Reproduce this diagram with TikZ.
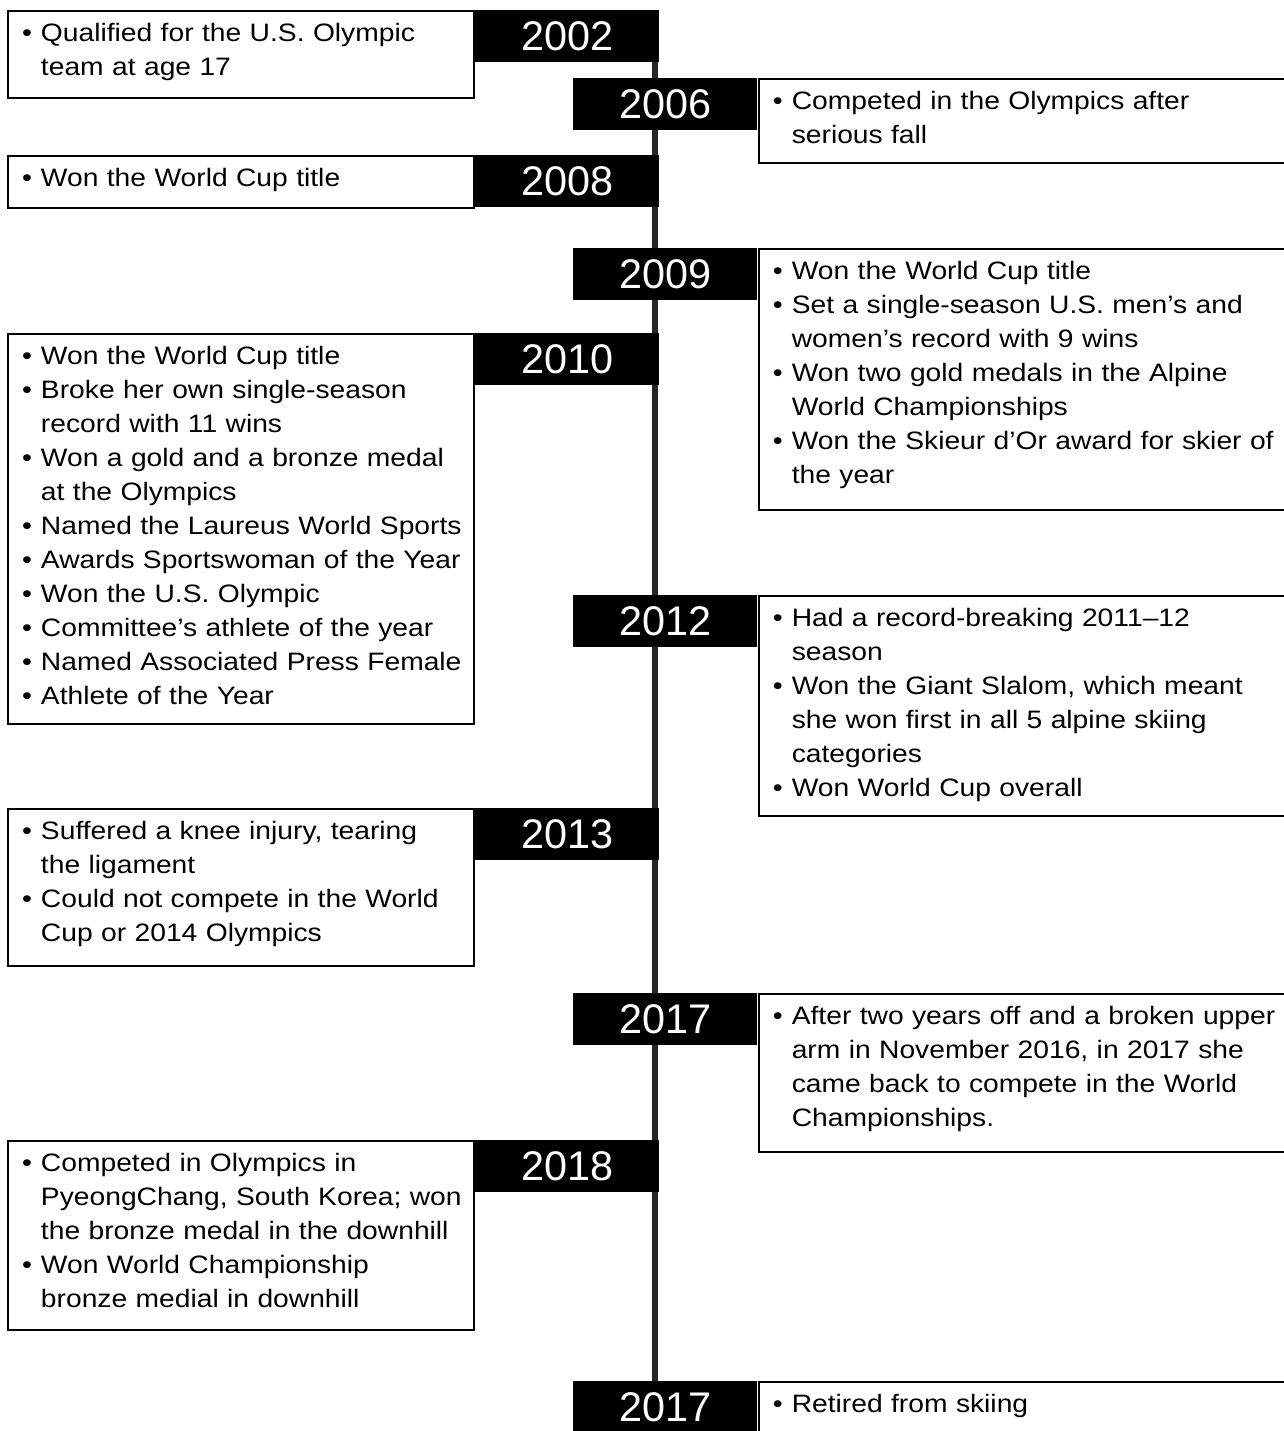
\documentclass[tikz,border=0pt]{standalone}
\usepackage{fontspec}
\newfontfamily\bodyfont{Liberation Sans}[FakeStretch=1.12]
\newfontfamily\yearfont{Liberation Sans}
\newcommand{\fitm}{\hangindent=9.5pt\hangafter=1\makebox[9.5pt][l]{\textbullet}}
\newcommand{\itm}{\par\hangindent=9.5pt\hangafter=1\noindent\makebox[9.5pt][l]{\textbullet}}

\tikzset{
  spine/.style={line width=3pt, black!85},
  yr/.style={fill=black, text=white, font=\yearfont\fontsize{20.7}{24}\selectfont,
    minimum width=92pt, minimum height=26pt, inner sep=0pt, anchor=north west},
  note/.style={draw, line width=1pt, inner xsep=7pt, inner ysep=0pt, text height=15pt,
    font=\bodyfont\fontsize{12.6}{17}\selectfont,
    execute at begin node={\parindent=0pt\rightskip=-30pt plus 1fil}},
  lnote/.style={note, text width=219pt, anchor=north east},
  rnote/.style={note, text width=249pt, anchor=north west},
}

\begin{document}
\begin{tikzpicture}[x=0.5pt, y=-0.5pt]
		%%%%% FRAME %%%%%
		\useasboundingbox (0,0) rectangle (1284,1431);
		\clip (0,0) rectangle (1284,1431);
		
		%%%%% SPINE %%%%%
		\coordinate (top) at (655,36);
		\coordinate (bot) at (655,1440);
		\draw[spine] (top) -- (bot);
		
		%%%%% YEARS %%%%%
		\node[yr] (y2002) at (475,10) {2002};
		\node[yr] (y2006) at (573,78) {2006};
		\node[yr] (y2008) at (475,155) {2008};
		\node[yr] (y2009) at (573,248) {2009};
		\node[yr] (y2010) at (475,333) {2010};
		\node[yr] (y2012) at (573,595) {2012};
		\node[yr] (y2013) at (475,808) {2013};
		\node[yr] (y2017a) at (573,993) {2017};
		\node[yr] (y2018) at (475,1140) {2018};
		\node[yr] (y2017b) at (573,1381) {2017};
		
		%%%%% LEFT NOTES %%%%%
		\node[lnote, text depth=28.5pt] (t2002) at (y2002.north west)
		  {\fitm Qualified for the U.S. Olympic\newline team at age 17\par};
		\node[lnote, text depth=11pt] (t2008) at (y2008.north west)
		  {\fitm Won the World Cup title\par};
		\node[lnote, text depth=180pt] (t2010) at (y2010.north west)
		  {\fitm Won the World Cup title
		   \itm Broke her own single-season\newline record with 11 wins
		   \itm Won a gold and a bronze medal\newline at the Olympics
		   \itm Named the Laureus World Sports
		   \itm Awards Sportswoman of the Year
		   \itm Won the U.S. Olympic
		   \itm Committee’s athlete of the year
		   \itm Named Associated Press Female
		   \itm Athlete of the Year\par};
		\node[lnote, text depth=63.5pt] (t2013) at (y2013.north west)
		  {\fitm Suffered a knee injury, tearing\newline the ligament
		   \itm Could not compete in the World\newline Cup or 2014 Olympics\par};
		\node[lnote, text depth=79.5pt] (t2018) at (y2018.north west)
		  {\fitm Competed in Olympics in\newline PyeongChang, South Korea; won\newline the bronze medal in the downhill
		   \itm Won World Championship\newline bronze medial in downhill\par};
		
		%%%%% RIGHT NOTES %%%%%
		\node[rnote, text depth=27pt] (t2006) at (y2006.north east)
		  {\fitm Competed in the Olympics after\newline serious fall\par};
		\node[rnote, text depth=115.5pt] (t2009) at (y2009.north east)
		  {\fitm Won the World Cup title
		   \itm Set a single-season U.S. men’s and\newline women’s record with 9 wins
		   \itm Won two gold medals in the Alpine\newline World Championships
		   \itm Won the Skieur d’Or award for skier of\newline the year\par};
		\node[rnote, text depth=95pt] (t2012) at (y2012.north east)
		  {\fitm Had a record-breaking 2011–12\newline season
		   \itm Won the Giant Slalom, which meant\newline she won first in all 5 alpine skiing\newline categories
		   \itm Won World Cup overall\par};
		\node[rnote, text depth=64pt] (t2017a) at (y2017a.north east)
		  {\fitm After two years off and a broken upper\newline arm in November 2016, in 2017 she\newline came back to compete in the World\newline Championships.\par};
		\node[rnote, text depth=17pt] (t2017b) at (y2017b.north east)
		  {\fitm Retired from skiing\par};
		%%%%% END %%%%%
	\end{tikzpicture}
\end{document}
